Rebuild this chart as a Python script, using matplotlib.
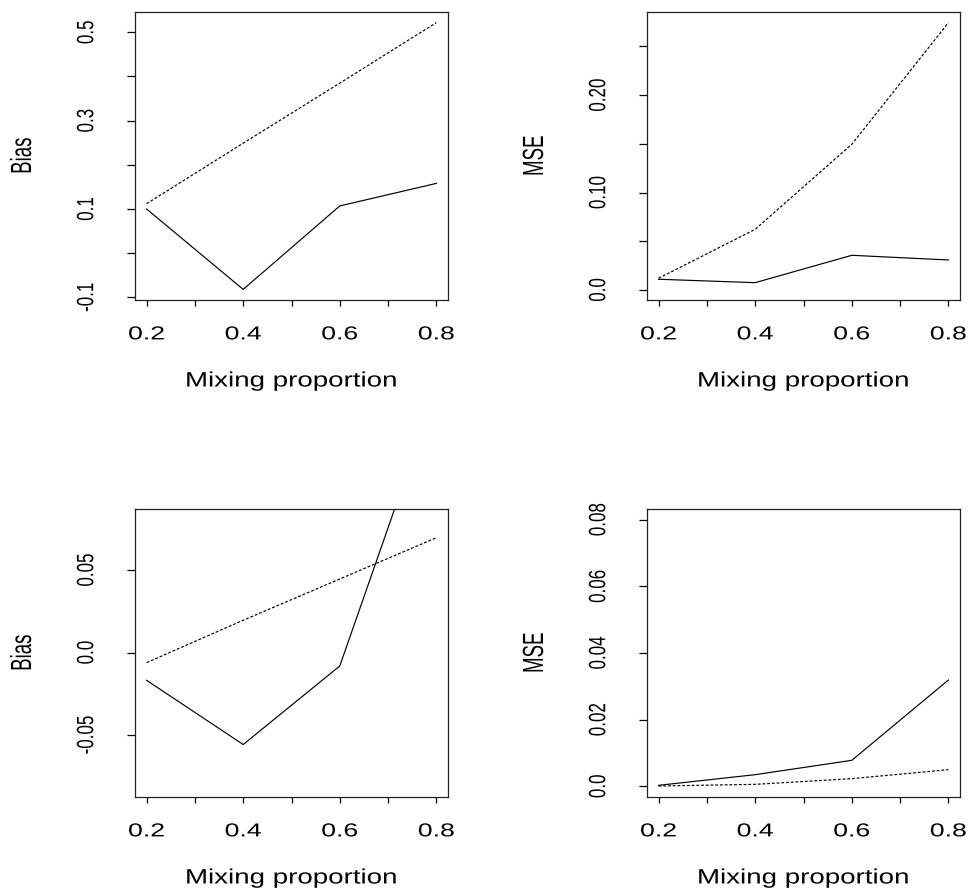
import matplotlib
matplotlib.use("Agg")
import matplotlib.pyplot as plt
from matplotlib.patheffects import AbstractPathEffect
from matplotlib.transforms import Affine2D

# ---- data ----
mix = [0.2, 0.4, 0.6, 0.8]
bias_top_solid = [0.100, -0.082, 0.107, 0.158]
bias_top_dotted = [0.112, 0.249, 0.385, 0.522]
mse_top_solid = [0.011, 0.0075, 0.0356, 0.0308]
mse_top_dotted = [0.012, 0.0623, 0.1496, 0.2744]
bias_bot_solid = [-0.0168, -0.0557, -0.0081, 0.1595]
bias_bot_dotted = [-0.0061, 0.0196, 0.0446, 0.0696]
mse_bot_solid = [0.0003, 0.0035, 0.0078, 0.0319]
mse_bot_dotted = [0.0001, 0.0006, 0.0023, 0.0050]

x_ticks = [0.2, 0.3, 0.4, 0.5, 0.6, 0.7, 0.8]
x_ticklabels = ["0.2", "", "0.4", "", "0.6", "", "0.8"]

bias_top_yticks = [-0.1, 0.0, 0.1, 0.2, 0.3, 0.4, 0.5]
bias_top_ylabels = ["-0.1", "", "0.1", "", "0.3", "", "0.5"]
mse_top_yticks = [0.0, 0.05, 0.10, 0.15, 0.20, 0.25]
mse_top_ylabels = ["0.0", "", "0.10", "", "0.20", ""]
bias_bot_yticks = [-0.05, 0.0, 0.05]
bias_bot_ylabels = ["-0.05", "0.0", "0.05"]
mse_bot_yticks = [0.0, 0.02, 0.04, 0.06, 0.08]
mse_bot_ylabels = ["0.0", "0.02", "0.04", "0.06", "0.08"]

xlabel = "Mixing proportion"


class Stretch(AbstractPathEffect):
    """Stretch glyphs along the text baseline, about the text centre."""
    def __init__(self, sx):
        super().__init__()
        self.sx = sx

    def draw_path(self, renderer, gc, tpath, affine, rgbFace=None):
        ext = tpath.get_extents()
        cx = 0.5 * (ext.x0 + ext.x1)
        t = Affine2D().translate(-cx, 0).scale(self.sx, 1).translate(cx, 0) + affine
        renderer.draw_path(gc, tpath, t, rgbFace)


W, H = 968, 888
fig = plt.figure(figsize=(W / 100, H / 100), dpi=100)


def rect(l, t, r, b):
    return [l / W, 1 - b / H, (r - l) / W, (b - t) / H]


panels = [
    (rect(135, 12, 448, 300), bias_top_solid, bias_top_dotted, (-0.106, 0.546),
     bias_top_yticks, bias_top_ylabels, "Bias"),
    (rect(647, 12, 960, 300), mse_top_solid, mse_top_dotted, (-0.0103, 0.2854),
     mse_top_yticks, mse_top_ylabels, "MSE"),
    (rect(135, 509, 448, 797), bias_bot_solid, bias_bot_dotted, (-0.0875, 0.087),
     bias_bot_yticks, bias_bot_ylabels, "Bias"),
    (rect(647, 509, 960, 797), mse_bot_solid, mse_bot_dotted, (-0.0032, 0.0832),
     mse_bot_yticks, mse_bot_ylabels, "MSE"),
]

FONT = "Liberation Sans"

for pos, solid, dotted, ylim, yt, yl, ylab in panels:
    ax = fig.add_axes(pos)
    ax.plot(mix, solid, color="black", lw=0.85, ls="-")
    ax.plot(mix, dotted, color="black", lw=0.85, ls=(0, (2.4, 1.6)))
    ax.set_xlim(0.176, 0.824)
    ax.set_ylim(*ylim)
    for s in ax.spines.values():
        s.set_linewidth(0.9)
        s.set_color("#222222")
    ax.set_xticks(x_ticks)
    ax.set_xticklabels(x_ticklabels, fontfamily=FONT, fontsize=13.5,
                       path_effects=[Stretch(1.42)])
    ax.set_yticks(yt)
    ax.set_yticklabels(yl, fontfamily=FONT, fontsize=17, rotation=90,
                       va="center", path_effects=[Stretch(0.72)])
    ax.tick_params(axis="x", direction="out", length=4, width=0.9, pad=15)
    ax.tick_params(axis="y", direction="out", length=5.5, width=0.9, pad=21)
    ax.set_xlabel(xlabel, fontfamily=FONT, fontsize=15,
                  path_effects=[Stretch(1.33)])
    ax.xaxis.label.set_va("center")
    ax.xaxis.set_label_coords(0.5, -81 / 288)
    ax.set_ylabel(ylab, fontfamily=FONT, fontsize=21,
                  path_effects=[Stretch(0.64)])
    ax.yaxis.label.set_va("center")
    ax.yaxis.set_label_coords(-112 / 313, 0.5)

fig.savefig("out.png", dpi=100)
